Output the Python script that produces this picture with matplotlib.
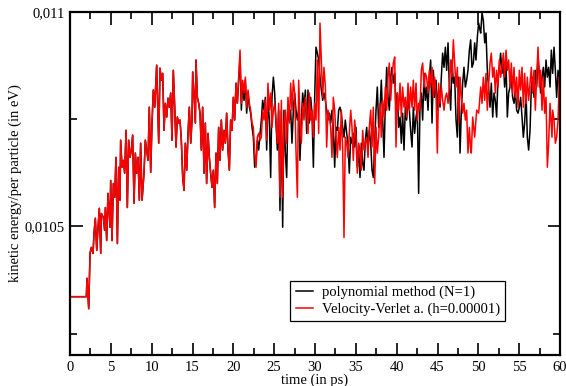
import matplotlib
matplotlib.use("Agg")
import matplotlib.pyplot as plt
from matplotlib.ticker import MultipleLocator, FuncFormatter

# Velocity-Verlet run (red, drawn on top)
vv_t = [0.0, 2.0, 2.08, 2.29, 2.45, 2.61, 2.82, 2.94, 3.1, 3.27, 3.43, 3.59, 3.76, 3.84,
        4.08, 4.24, 4.33, 4.49, 4.65, 4.9, 4.98, 5.14, 5.31, 5.47, 5.63, 5.8, 5.96,
        6.12, 6.2, 6.37, 6.53, 6.69, 6.86, 7.02, 7.18, 7.35, 7.51, 7.67, 7.84, 8.0,
        8.16, 8.33, 8.49, 8.65, 8.82, 9.06, 9.22, 9.39, 9.55, 9.71, 9.88, 10.04, 10.2,
        10.37, 10.61, 10.86, 11.02, 11.18, 11.35, 11.51, 11.67, 11.84, 12.0, 12.16,
        12.33, 12.49, 12.65, 12.82, 12.98, 13.14, 13.31, 13.47, 13.63, 13.8, 13.96,
        14.12, 14.29, 14.45, 14.61, 14.78, 14.94, 15.02, 15.18, 15.35, 15.43, 15.59,
        15.76, 15.92, 16.08, 16.24, 16.41, 16.57, 16.73, 16.9, 17.06, 17.22, 17.39,
        17.55, 17.71, 17.88, 18.04, 18.2, 18.37, 18.53, 18.69, 18.86, 19.02, 19.18,
        19.35, 19.51, 19.67, 19.84,
        20.0, 20.16, 20.33, 20.49, 20.65, 20.82, 20.98, 21.14, 21.31, 21.47, 21.63,
        21.8, 21.96, 22.12, 22.29, 22.45, 22.61, 22.78, 22.94, 23.1, 23.27, 23.43,
        23.59, 23.76, 23.92, 24.08, 24.24, 24.41, 24.57, 24.73, 24.9, 25.06, 25.22,
        25.39, 25.55, 25.71, 25.88, 26.04, 26.2, 26.37, 26.53, 26.69, 26.86, 27.02,
        27.18, 27.35, 27.51, 27.67, 27.84, 28.0, 28.16, 28.33, 28.49, 28.65, 28.82,
        28.98, 29.14, 29.31, 29.47, 29.63, 29.8, 29.96, 30.12, 30.29, 30.45, 30.61,
        30.78, 30.94, 31.1, 31.27, 31.43, 31.59, 31.76, 31.92, 32.08, 32.24, 32.41,
        32.57, 32.73, 32.9, 33.06, 33.22, 33.39, 33.55, 33.71, 33.88, 34.04, 34.2,
        34.37, 34.53, 34.69, 34.86, 35.02, 35.18, 35.35, 35.51, 35.67, 35.84, 36.0,
        36.16, 36.33, 36.49, 36.65, 36.82, 36.98, 37.14, 37.31, 37.47, 37.63, 37.8,
        37.96, 38.12, 38.29, 38.45, 38.61, 38.78, 38.94, 39.1, 39.27, 39.43, 39.59,
        39.76, 39.92, 40.08, 40.24, 40.41, 40.57, 40.73, 40.9, 41.06, 41.22, 41.39,
        41.55, 41.71, 41.88, 42.04, 42.2, 42.37, 42.53, 42.69, 42.86, 43.02, 43.18,
        43.35, 43.51, 43.67, 43.84, 44.0, 44.16, 44.33, 44.49, 44.65, 44.82, 44.98,
        45.14, 45.31, 45.47, 45.63, 45.8, 45.96, 46.12, 46.29, 46.45, 46.61, 46.78,
        46.94, 47.1, 47.27, 47.43, 47.59, 47.76, 47.92, 48.08, 48.24, 48.41, 48.57,
        48.73, 48.9, 49.06, 49.14, 49.31, 49.55, 49.8, 50.04, 50.29, 50.45, 50.61,
        50.78, 50.94, 51.1, 51.27, 51.43, 51.59, 51.76, 51.92, 52.08, 52.24, 52.41,
        52.57, 52.73, 52.9, 53.06, 53.22, 53.39, 53.55, 53.71, 53.88, 54.04, 54.2,
        54.37, 54.53, 54.69, 54.86, 55.02, 55.18, 55.35, 55.51, 55.67, 55.84, 56.0,
        56.16, 56.33, 56.49, 56.65, 56.82, 56.98, 57.14, 57.31, 57.47, 57.63, 57.8,
        57.96, 58.12, 58.29, 58.45, 58.61, 58.78, 59.02, 59.1, 59.27, 59.43, 59.59,
        59.76, 59.92, 60.0]
vv_e = [0.010336, 0.010336, 0.010379, 0.010308, 0.010437, 0.010451, 0.010437, 0.010484,
        0.010519, 0.010444, 0.010498, 0.010542, 0.010437, 0.010530, 0.010521, 0.010491,
        0.010544, 0.010467, 0.010577, 0.010498, 0.010607, 0.010467, 0.010600, 0.010568,
        0.010661, 0.010460, 0.010638, 0.010561, 0.010701, 0.010638, 0.010654, 0.010624,
        0.010724, 0.010544, 0.010701, 0.010661, 0.010678, 0.010713, 0.010554, 0.010671,
        0.010624, 0.010661, 0.010561, 0.010694, 0.010561, 0.010624, 0.010701, 0.010678,
        0.010654, 0.010778, 0.010626, 0.010741, 0.010818, 0.010778, 0.010876, 0.010694,
        0.010869, 0.010841, 0.010857, 0.010724, 0.010787, 0.010755, 0.010799, 0.010778,
        0.010811, 0.010701, 0.010864, 0.010778, 0.010685, 0.010755, 0.010741, 0.010748,
        0.010701, 0.010614, 0.010584, 0.010694, 0.010631, 0.010717, 0.010778, 0.010694,
        0.010748, 0.010860, 0.010811, 0.010741, 0.010888, 0.010801, 0.010787, 0.010764,
        0.010678, 0.010778, 0.010624, 0.010741, 0.010600, 0.010717, 0.010661, 0.010624,
        0.010591, 0.010631, 0.010544, 0.010671, 0.010600, 0.010731, 0.010654, 0.010748,
        0.010678, 0.010724, 0.010694, 0.010764, 0.010678, 0.010631, 0.010748, 0.010724,
        0.010801, 0.010748, 0.010834, 0.010787, 0.010848, 0.010911, 0.010787, 0.010841,
        0.010811, 0.010848, 0.010778, 0.010818, 0.010787, 0.010771, 0.010741, 0.010731,
        0.010671, 0.010638, 0.010708, 0.010717, 0.010701, 0.010708, 0.010771, 0.010748,
        0.010794, 0.010701, 0.010834, 0.010771, 0.010811, 0.010731, 0.010771, 0.010787,
        0.010748, 0.010694, 0.010787, 0.010568, 0.010794, 0.010568, 0.010741, 0.010771,
        0.010694, 0.010801, 0.010741, 0.010834, 0.010771, 0.010841, 0.010811, 0.010678,
        0.010568, 0.010841, 0.010748, 0.010694, 0.010787, 0.010748, 0.010801, 0.010771,
        0.010717, 0.010811, 0.010748, 0.010771, 0.010708, 0.010787, 0.010748, 0.010888,
        0.010717, 0.010974, 0.010888, 0.010801, 0.010871, 0.010825, 0.010685, 0.010771,
        0.010755, 0.010731, 0.010661, 0.010801, 0.010771, 0.010708, 0.010661, 0.010731,
        0.010678, 0.010771, 0.010678, 0.010474, 0.010708, 0.010694, 0.010661, 0.010717,
        0.010771, 0.010731, 0.010654, 0.010748, 0.010708, 0.010624, 0.010694, 0.010678,
        0.010631, 0.010724, 0.010678, 0.010694, 0.010708, 0.010661, 0.010731, 0.010771,
        0.010685, 0.010778, 0.010600, 0.010731, 0.010671, 0.010708, 0.010787, 0.010708,
        0.010794, 0.010755, 0.010825, 0.010771, 0.010848, 0.010881, 0.010794, 0.010848,
        0.010881, 0.010895, 0.010685, 0.010811, 0.010771, 0.010834, 0.010755, 0.010825,
        0.010778, 0.010801, 0.010755, 0.010834, 0.010771, 0.010825, 0.010778, 0.010841,
        0.010771, 0.010834, 0.010748, 0.010787, 0.010771, 0.010864, 0.010881, 0.010825,
        0.010857, 0.010848, 0.010811, 0.010864, 0.010825, 0.010871, 0.010801, 0.010848,
        0.010811, 0.010671, 0.010834, 0.010787, 0.010825, 0.010794, 0.010771, 0.010801,
        0.010811, 0.010787, 0.010825, 0.010888, 0.010848, 0.010935, 0.010881, 0.010825,
        0.010871, 0.010741, 0.010848, 0.010801, 0.010764, 0.010787, 0.010748, 0.010771,
        0.010671, 0.010731, 0.010678, 0.010671, 0.010755, 0.010708, 0.010771, 0.010764,
        0.010825, 0.010787, 0.010848, 0.010794, 0.010857, 0.010771, 0.010834, 0.010881,
        0.010904, 0.010848, 0.010871, 0.010811, 0.010864, 0.010825, 0.010888, 0.010848,
        0.010871, 0.010904, 0.010848, 0.010911, 0.010864, 0.010888, 0.010825, 0.010881,
        0.010811, 0.010871, 0.010801, 0.010848, 0.010778, 0.010864, 0.010818, 0.010871,
        0.010778, 0.010857, 0.010787, 0.010848, 0.010794, 0.010834, 0.010871, 0.010811,
        0.010864, 0.010771, 0.010848, 0.010918, 0.010825, 0.010864, 0.010771, 0.010848,
        0.010764, 0.010801, 0.010638, 0.010694, 0.010787, 0.010708, 0.010771, 0.010748,
        0.010694, 0.010708, 0.010748, 0.010848, 0.010804]

# polynomial method (black); below 20 ps it lies under the red curve
n_same = 113
poly_t = vv_t[:n_same] + [
    20.0, 20.16, 20.33, 20.49, 20.65, 20.82, 20.98, 21.14, 21.31, 21.47, 21.63, 21.8,
    21.96, 22.12, 22.29, 22.45, 22.61, 22.78, 22.94, 23.1, 23.27, 23.43, 23.59, 23.76,
    23.92, 24.08, 24.24, 24.41, 24.57, 24.73, 24.9, 25.06, 25.22, 25.39, 25.55, 25.71,
    25.88, 26.04, 26.2, 26.37, 26.53, 26.69, 26.86, 27.02, 27.18, 27.35, 27.51, 27.67,
    27.84, 28.0, 28.16, 28.33, 28.49, 28.65, 28.82, 28.98, 29.14, 29.31, 29.47, 29.63,
    29.8, 29.96, 30.12, 30.29, 30.45, 30.61, 30.78, 30.94, 31.1, 31.27, 31.43, 31.59,
    31.76, 31.92, 32.08, 32.24, 32.41, 32.57, 32.73, 32.9, 33.06, 33.22, 33.39, 33.55,
    33.71, 33.88, 34.04, 34.2, 34.37, 34.53, 34.69, 34.86, 35.02, 35.18, 35.35, 35.51,
    35.67, 35.84, 36.0, 36.16, 36.33, 36.49, 36.65, 36.82, 36.98, 37.14, 37.31, 37.47,
    37.63, 37.8, 37.96, 38.12, 38.29, 38.45, 38.61, 38.78, 38.94, 39.1, 39.27, 39.43,
    39.59, 39.76, 39.92, 40.08, 40.24, 40.41, 40.57, 40.73, 40.9, 41.06, 41.22, 41.39,
    41.55, 41.71, 41.88, 42.04, 42.2, 42.37, 42.53, 42.69, 42.86, 43.02, 43.18, 43.35,
    43.51, 43.67, 43.84, 44.0, 44.16, 44.33, 44.49, 44.65, 44.82, 44.98, 45.14, 45.31,
    45.47, 45.63, 45.8, 45.96, 46.12, 46.29, 46.45, 46.61, 46.78, 46.94, 47.1, 47.27,
    47.43, 47.59, 47.76, 47.92, 48.08, 48.24, 48.41, 48.57, 48.73, 48.9, 49.06, 49.22,
    49.39, 49.55, 49.71, 49.88, 50.04, 50.2, 50.29, 50.45, 50.61, 50.78, 50.94, 51.1,
    51.27, 51.43, 51.59, 51.76, 51.92, 52.08, 52.24, 52.41, 52.57, 52.73, 52.9, 53.06,
    53.22, 53.39, 53.55, 53.71, 53.88, 54.04, 54.2, 54.37, 54.53, 54.69, 54.86, 55.02,
    55.18, 55.35, 55.51, 55.67, 55.84, 56.0, 56.16, 56.33, 56.49, 56.65, 56.82, 56.98,
    57.14, 57.31, 57.47, 57.63, 57.8, 57.96, 58.12, 58.29, 58.45, 58.61, 58.78, 58.94,
    59.1, 59.27, 59.43, 59.59, 59.76, 59.92, 60.0]
poly_e = vv_e[:n_same] + [
    0.010801, 0.010748, 0.010834, 0.010787, 0.010841, 0.010895, 0.010771, 0.010834,
    0.010794, 0.010841, 0.010764, 0.010811, 0.010778, 0.010764, 0.010731, 0.010708,
    0.010638, 0.010654, 0.010701, 0.010678, 0.010717, 0.010748, 0.010794, 0.010771,
    0.010801, 0.010678, 0.010794, 0.010748, 0.010614, 0.010801, 0.010848, 0.010811,
    0.010741, 0.010678, 0.010771, 0.010537, 0.010771, 0.010498, 0.010771, 0.010671,
    0.010614, 0.010771, 0.010748, 0.010771, 0.010694, 0.010771, 0.010811, 0.010771,
    0.010748, 0.010771, 0.010654, 0.010748, 0.010811, 0.010778, 0.010818, 0.010717,
    0.010818, 0.010741, 0.010801, 0.010764, 0.010638, 0.010801, 0.010918, 0.010904,
    0.010888, 0.010848, 0.010818, 0.010794, 0.010811, 0.010794, 0.010771, 0.010748,
    0.010764, 0.010741, 0.010771, 0.010731, 0.010638, 0.010731, 0.010724, 0.010771,
    0.010778, 0.010764, 0.010731, 0.010708, 0.010748, 0.010717, 0.010694, 0.010624,
    0.010708, 0.010694, 0.010717, 0.010685, 0.010731, 0.010638, 0.010678, 0.010614,
    0.010694, 0.010647, 0.010631, 0.010701, 0.010731, 0.010678, 0.010724, 0.010694,
    0.010631, 0.010614, 0.010694, 0.010771, 0.010825, 0.010731, 0.010771, 0.010841,
    0.010748, 0.010661, 0.010787, 0.010871, 0.010801, 0.010771, 0.010848, 0.010871,
    0.010834, 0.010857, 0.010771, 0.010811, 0.010731, 0.010755, 0.010694, 0.010764,
    0.010678, 0.010778, 0.010748, 0.010801, 0.010771, 0.010724, 0.010685, 0.010778,
    0.010717, 0.010755, 0.010771, 0.010577, 0.010787, 0.010811, 0.010748, 0.010857,
    0.010794, 0.010825, 0.010771, 0.010848, 0.010888, 0.010741, 0.010864, 0.010801,
    0.010841, 0.010771, 0.010818, 0.010778, 0.010848, 0.010904, 0.010871, 0.010918,
    0.010864, 0.010928, 0.010825, 0.010771, 0.010888, 0.010834, 0.010848, 0.010748,
    0.010708, 0.010848, 0.010671, 0.010771, 0.010834, 0.010871, 0.010825, 0.010841,
    0.010864, 0.010911, 0.010935, 0.010871, 0.010881, 0.010928, 0.010888, 0.010942,
    0.010974, 0.010958, 0.010951, 0.010998, 0.010981, 0.010928, 0.010951, 0.010864,
    0.010818, 0.010778, 0.010834, 0.010755, 0.010811, 0.010794, 0.010755, 0.010848,
    0.010871, 0.010904, 0.010857, 0.010888, 0.010825, 0.010881, 0.010755, 0.010811,
    0.010825, 0.010848, 0.010801, 0.010787, 0.010818, 0.010771, 0.010764, 0.010778,
    0.010801, 0.010755, 0.010708, 0.010741, 0.010811, 0.010708, 0.010678, 0.010724,
    0.010825, 0.010848, 0.010801, 0.010864, 0.010825, 0.010895, 0.010857, 0.010811,
    0.010848, 0.010871, 0.010825, 0.010888, 0.010848, 0.010871, 0.010825, 0.010911,
    0.010857, 0.010918, 0.010864, 0.010801, 0.010864, 0.010834, 0.010818]

plt.rcParams['font.family'] = ['Liberation Serif', 'DejaVu Serif']
plt.rcParams['font.size'] = 10.5

fig = plt.figure(figsize=(5.66, 3.86), dpi=100)
ax = fig.add_axes([0.1237, 0.0803, 0.8657, 0.8886])

ax.plot(poly_t, poly_e, color='black', lw=1.1, label='polynomial method (N=1)')
ax.plot(vv_t, vv_e, color='#ff0000', lw=1.1, label='Velocity-Verlet a. (h=0.00001)')

ax.set_xlim(0, 60)
ax.set_ylim(0.0102, 0.011)
ax.xaxis.set_major_locator(MultipleLocator(5))
ax.xaxis.set_minor_locator(MultipleLocator(2.5))
ax.yaxis.set_major_locator(MultipleLocator(0.0005))
ax.yaxis.set_minor_locator(MultipleLocator(0.00025))
ax.yaxis.set_major_formatter(FuncFormatter(lambda v, p: f"{v:g}".replace('.', ',')))

for s in ax.spines.values():
    s.set_linewidth(1.6)
ax.tick_params(which='both', direction='in', top=True, right=True, width=1.2,
               labelsize=10.5, pad=4)
ax.tick_params(which='major', length=9)
ax.tick_params(which='minor', length=5)

ax.set_xlabel('time (in ps)', fontsize=10.5, labelpad=0)
ax.set_ylabel('kinetic energy/per particle (in eV)', fontsize=10.5, labelpad=2)

leg = ax.legend(loc='lower left', bbox_to_anchor=(0.435, 0.078), fancybox=False,
                framealpha=1, edgecolor='black', fontsize=10.5, handlelength=1.2,
                handletextpad=0.6, borderpad=0.35, labelspacing=0.2)
leg.get_frame().set_linewidth(0.9)

fig.savefig('out.png', dpi=100)
